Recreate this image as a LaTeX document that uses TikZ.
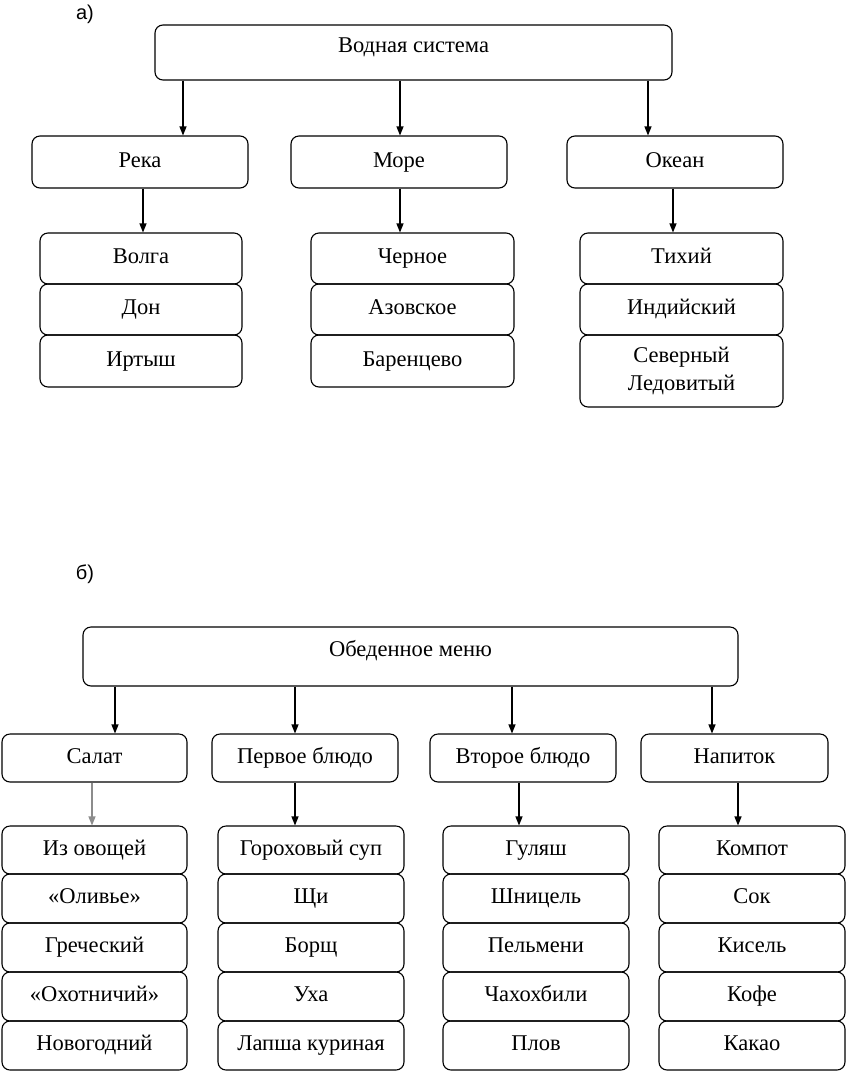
\documentclass[tikz,border=0pt]{standalone}
\usepackage{fontspec}
\setmainfont{Liberation Serif}
\newfontfamily\labelfont{Liberation Sans}
\usetikzlibrary{arrows.meta}

\tikzset{
  box/.style={draw, line width=1.1pt, rounded corners=8pt, inner sep=0pt,
    font=\fontsize{22.5}{28}\selectfont, align=center,
    text height=15pt, text depth=5pt},
  topbox/.style={box, text depth=15pt},
  arr/.style={line width=1.2pt, -{Triangle[length=9pt,width=7pt]}},
  part/.style={font=\labelfont\fontsize{20}{24}\selectfont, inner sep=0pt}
}

\begin{document}
\begin{tikzpicture}[x=1pt, y=-1pt]
			%%%%% START %%%%%
			\useasboundingbox (0, 0) rectangle (847, 1072);

			%%%%% а) %%%%%
			\node[part] (la) at (85, 14) {а)};
			\node[topbox, minimum width=517pt, minimum height=55pt] (sys) at (413.5, 52.5) {Водная система};

			\node[box, minimum width=216pt, minimum height=52pt] (reka) at (140, 162) {Река};
			\node[box, minimum width=216pt, minimum height=52pt] (more) at (399, 162) {Море};
			\node[box, minimum width=216pt, minimum height=52pt] (okean) at (675, 162) {Океан};

			\node[box, minimum width=202pt, minimum height=51pt] (volga) at (141, 258.5) {Волга};
			\node[box, minimum width=202pt, minimum height=51pt] (don) at (141, 309.5) {Дон};
			\node[box, minimum width=202pt, minimum height=52pt] (irtysh) at (141, 361) {Иртыш};

			\node[box, minimum width=203pt, minimum height=51pt] (chernoe) at (412.5, 258.5) {Черное};
			\node[box, minimum width=203pt, minimum height=51pt] (azov) at (412.5, 309.5) {Азовское};
			\node[box, minimum width=203pt, minimum height=52pt] (barenc) at (412.5, 361) {Баренцево};

			\node[box, minimum width=203pt, minimum height=51pt] (tihiy) at (681.5, 258.5) {Тихий};
			\node[box, minimum width=203pt, minimum height=51pt] (indiy) at (681.5, 309.5) {Индийский};
			\node[box, minimum width=203pt, minimum height=72pt, text height=, text depth=] (sevled) at (681.5, 371) {Северный\\Ледовитый};

			\draw[arr] (sys.south -| 183, 0) -- (reka.north -| 183, 0);
			\draw[arr] (sys.south -| 400, 0) -- (more.north -| 400, 0);
			\draw[arr] (sys.south -| 648, 0) -- (okean.north -| 648, 0);
			\draw[arr] (reka.south -| 143, 0) -- (volga.north -| 143, 0);
			\draw[arr] (more.south -| 400, 0) -- (chernoe.north -| 400, 0);
			\draw[arr] (okean.south -| 673, 0) -- (tihiy.north -| 673, 0);

			%%%%% б) %%%%%
			\node[part] (lb) at (85, 574) {б)};
			\node[topbox, minimum width=655pt, minimum height=59pt] (menu) at (410.5, 656.5) {Обеденное меню};

			\node[box, minimum width=185pt, minimum height=48pt] (salat) at (94.5, 758) {Салат};
			\node[box, minimum width=186pt, minimum height=48pt] (pervoe) at (305, 758) {Первое блюдо};
			\node[box, minimum width=186pt, minimum height=48pt] (vtoroe) at (523, 758) {Второе блюдо};
			\node[box, minimum width=187pt, minimum height=48pt] (napitok) at (734.5, 758) {Напиток};

			\node[box, minimum width=185pt, minimum height=48pt] (s1) at (94.5, 850) {Из овощей};
			\node[box, minimum width=185pt, minimum height=49pt] (s2) at (94.5, 898.5) {«Оливье»};
			\node[box, minimum width=185pt, minimum height=49pt] (s3) at (94.5, 947.5) {Греческий};
			\node[box, minimum width=185pt, minimum height=49pt] (s4) at (94.5, 996.5) {«Охотничий»};
			\node[box, minimum width=185pt, minimum height=49pt] (s5) at (94.5, 1045.5) {Новогодний};

			\node[box, minimum width=186pt, minimum height=48pt] (p1) at (311, 850) {Гороховый суп};
			\node[box, minimum width=186pt, minimum height=49pt] (p2) at (311, 898.5) {Щи};
			\node[box, minimum width=186pt, minimum height=49pt] (p3) at (311, 947.5) {Борщ};
			\node[box, minimum width=186pt, minimum height=49pt] (p4) at (311, 996.5) {Уха};
			\node[box, minimum width=186pt, minimum height=49pt] (p5) at (311, 1045.5) {Лапша куриная};

			\node[box, minimum width=186pt, minimum height=48pt] (v1) at (536, 850) {Гуляш};
			\node[box, minimum width=186pt, minimum height=49pt] (v2) at (536, 898.5) {Шницель};
			\node[box, minimum width=186pt, minimum height=49pt] (v3) at (536, 947.5) {Пельмени};
			\node[box, minimum width=186pt, minimum height=49pt] (v4) at (536, 996.5) {Чахохбили};
			\node[box, minimum width=186pt, minimum height=49pt] (v5) at (536, 1045.5) {Плов};

			\node[box, minimum width=186pt, minimum height=48pt] (n1) at (752, 850) {Компот};
			\node[box, minimum width=186pt, minimum height=49pt] (n2) at (752, 898.5) {Сок};
			\node[box, minimum width=186pt, minimum height=49pt] (n3) at (752, 947.5) {Кисель};
			\node[box, minimum width=186pt, minimum height=49pt] (n4) at (752, 996.5) {Кофе};
			\node[box, minimum width=186pt, minimum height=49pt] (n5) at (752, 1045.5) {Какао};

			\draw[arr] (menu.south -| 115, 0) -- (salat.north -| 115, 0);
			\draw[arr] (menu.south -| 295, 0) -- (pervoe.north -| 295, 0);
			\draw[arr] (menu.south -| 512, 0) -- (vtoroe.north -| 512, 0);
			\draw[arr] (menu.south -| 712, 0) -- (napitok.north -| 712, 0);
			\draw[arr, black!45] (salat.south -| 92, 0) -- (s1.north -| 92, 0);
			\draw[arr] (pervoe.south -| 295, 0) -- (p1.north -| 295, 0);
			\draw[arr] (vtoroe.south -| 519, 0) -- (v1.north -| 519, 0);
			\draw[arr] (napitok.south -| 738, 0) -- (n1.north -| 738, 0);
			%%%%% END %%%%%
\end{tikzpicture}
\end{document}
